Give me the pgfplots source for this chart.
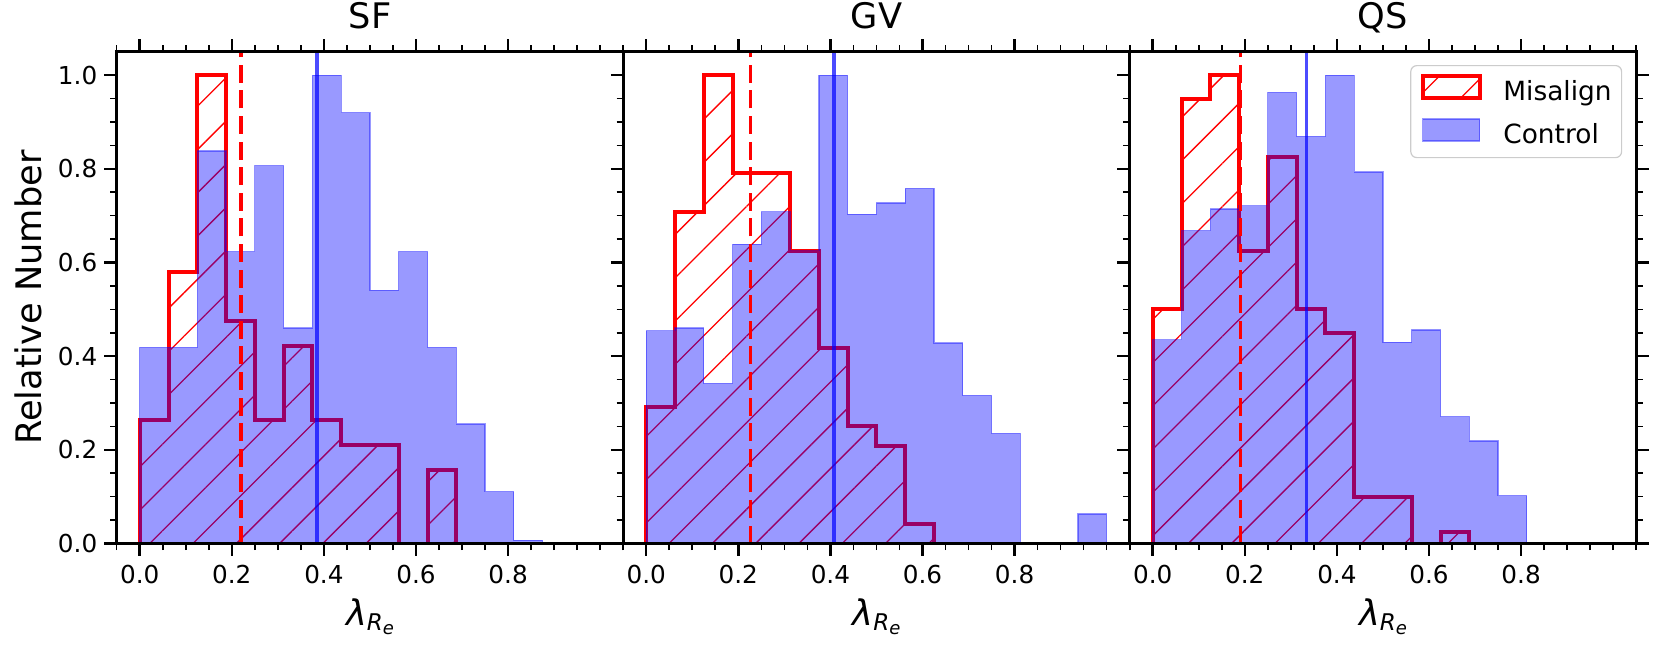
\documentclass[border=0pt]{standalone}
\usepackage{fontspec}
\setmainfont{DejaVu Sans}
\usepackage{pgfplots}
\pgfplotsset{compat=1.18}
\usetikzlibrary{patterns.meta}

\definecolor{legedge}{RGB}{204,204,204}

\newcommand{\lamlabel}{\textit{λ}\raisebox{-2.5pt}{\fontsize{11.5}{13}\selectfont\textit{R}\raisebox{-2.2pt}{\fontsize{9}{10}\selectfont\textit{e}}}}

\pgfplotsset{
  panel/.style={
    scale only axis, width=253.25pt, height=245.9pt,
    xmin=-0.05, xmax=1.05, ymin=0, ymax=1.05,
    axis on top,
    xtick={0,0.2,0.4,0.6,0.8},
    xticklabels={0.0,0.2,0.4,0.6,0.8},
    minor xtick={-0.05,0.05,0.1,0.15,0.25,0.3,0.35,0.45,0.5,0.55,0.65,0.7,0.75,0.85,0.9,0.95,1.0,1.05},
    ytick={0,0.2,0.4,0.6,0.8,1.0},
    minor ytick={0.05,0.1,0.15,0.25,0.3,0.35,0.45,0.5,0.55,0.65,0.7,0.75,0.85,0.9,0.95},
    tick align=outside,
    xtick pos=both,
    major tick length=6.2pt, minor tick length=3.3pt,
    tick style={black},
    major tick style={line width=1.25pt},
    minor tick style={line width=0.8pt},
    axis line style={line width=1.35pt},
    tick label style={font=\fontsize{12.35}{14}\selectfont},
    xticklabel style={yshift=-1pt},
    title style={at={([yshift=5.5pt]axis description cs:0.5,1)}, anchor=base, font=\fontsize{17.6}{20}\selectfont},
    xlabel={\lamlabel},
    xlabel style={at={([yshift=-40.75pt]axis description cs:0.5,0)}, anchor=base, font=\fontsize{17.6}{20}\selectfont},
  },
  mis/.style={draw=red, line width=2pt, pattern={Lines[angle=45,distance=15.3pt,line width=0.65pt]}, pattern color=red, const plot, mark=none},
  ctl/.style={draw=blue, draw opacity=0.4, fill=blue, fill opacity=0.4, line width=0.6pt, const plot, mark=none},
  redmed/.style={red, line width=1.7pt, dash pattern=on 9pt off 3.8pt, mark=none, forget plot},
  bluemed/.style={blue, draw opacity=0.7, line width=1.7pt, mark=none, forget plot},
}

\begin{document}
\begin{tikzpicture}
\path[use as bounding box] (0,0) rectangle (830.5pt,325pt);

% ---------------- SF ----------------
\begin{axis}[panel, at={(58.35pt,53.25pt)}, anchor=south west, title={SF},
  ytick pos=left, yticklabels={0.0,0.2,0.4,0.6,0.8,1.0},
  ylabel={Relative Number},
  ylabel style={at={([xshift=-44.35pt]axis description cs:0,0.5)}, anchor=center, font=\fontsize{17.6}{20}\selectfont}]
\addplot[mis, forget plot] coordinates {(0,0) (0,0.263) (0.0625,0.579) (0.125,1.0) (0.1875,0.474) (0.25,0.263) (0.3125,0.421) (0.375,0.263) (0.4375,0.211) (0.5,0.211) (0.5625,0) (0.625,0.158) (0.6875,0) (0.75,0) (0.8125,0) (0.875,0) (0.9375,0) (1,0) (1,0)};
\addplot[ctl, forget plot] coordinates {(0,0) (0,0.419) (0.0625,0.419) (0.125,0.838) (0.1875,0.623) (0.25,0.807) (0.3125,0.460) (0.375,1.0) (0.4375,0.920) (0.5,0.541) (0.5625,0.623) (0.625,0.419) (0.6875,0.255) (0.75,0.111) (0.8125,0.007) (0.875,0) (0.9375,0) (1,0) (1,0)};
\addplot[redmed] coordinates {(0.220,0) (0.220,1.05)};
\addplot[bluemed] coordinates {(0.385,0) (0.385,1.05)};
\end{axis}

% ---------------- GV ----------------
\begin{axis}[panel, at={(311.6pt,53.25pt)}, anchor=south west, title={GV},
  ytick pos=left, yticklabels={}]
\addplot[mis, forget plot] coordinates {(0,0) (0,0.292) (0.0625,0.708) (0.125,1.0) (0.1875,0.792) (0.25,0.792) (0.3125,0.625) (0.375,0.417) (0.4375,0.25) (0.5,0.208) (0.5625,0.042) (0.625,0) (0.6875,0) (0.75,0) (0.8125,0) (0.875,0) (0.9375,0) (1,0) (1,0)};
\addplot[ctl, forget plot] coordinates {(0,0) (0,0.454) (0.0625,0.460) (0.125,0.342) (0.1875,0.639) (0.25,0.708) (0.3125,0.625) (0.375,1.0) (0.4375,0.703) (0.5,0.727) (0.5625,0.758) (0.625,0.428) (0.6875,0.316) (0.75,0.235) (0.8125,0) (0.875,0) (0.9375,0.063) (1,0.063) (1,0)};
\addplot[redmed] coordinates {(0.226,0) (0.226,1.05)};
\addplot[bluemed] coordinates {(0.408,0) (0.408,1.05)};
\end{axis}

% ---------------- QS ----------------
\begin{axis}[panel, at={(564.85pt,53.25pt)}, anchor=south west, title={QS},
  ytick pos=both, yticklabels={},
  legend style={at={(1,1)}, anchor=north east, xshift=-7pt, yshift=-6.65pt,
    draw=legedge, line width=0.6pt, rounded corners=3pt, fill=white,
    font=\fontsize{13.2}{15}\selectfont,
    inner xsep=5pt, inner ysep=4pt, row sep=6pt, column sep=10.8pt,
    nodes={inner sep=0pt, text height=9.7pt, text depth=3pt}, cells={anchor=west}},
  legend image code/.code={\draw[sharp corners, #1] (0pt,-2pt) rectangle (28.5pt,9pt);}]
\addplot[mis] coordinates {(0,0) (0,0.5) (0.0625,0.95) (0.125,1.0) (0.1875,0.625) (0.25,0.825) (0.3125,0.5) (0.375,0.45) (0.4375,0.1) (0.5,0.1) (0.5625,0) (0.625,0.025) (0.6875,0) (0.75,0) (0.8125,0) (0.875,0) (0.9375,0) (1,0) (1,0)};
\addlegendentry{Misalign}
\addplot[ctl] coordinates {(0,0) (0,0.435) (0.0625,0.668) (0.125,0.714) (0.1875,0.721) (0.25,0.963) (0.3125,0.869) (0.375,1.0) (0.4375,0.793) (0.5,0.430) (0.5625,0.456) (0.625,0.271) (0.6875,0.219) (0.75,0.102) (0.8125,0) (0.875,0) (0.9375,0) (1,0) (1,0)};
\addlegendentry{Control}
\addplot[redmed] coordinates {(0.190,0) (0.190,1.05)};
\addplot[bluemed] coordinates {(0.334,0) (0.334,1.05)};
\end{axis}
\end{tikzpicture}
\end{document}
